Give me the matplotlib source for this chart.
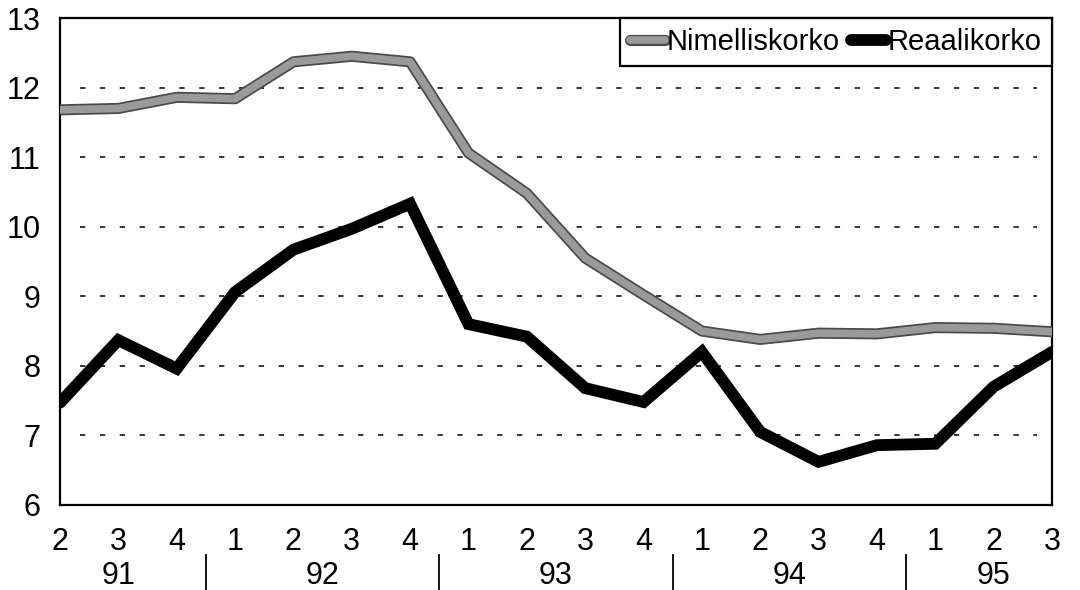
import numpy as np
import matplotlib
matplotlib.use('Agg')
from matplotlib import pyplot as plt
import matplotlib.patheffects as pe

# quarters 1991Q2 - 1995Q3
quarters = ['2', '3', '4', '1', '2', '3', '4', '1', '2', '3', '4',
            '1', '2', '3', '4', '1', '2', '3']
years = ['91', '92', '93', '94', '95']
year_len = [3, 4, 4, 4, 3]

nimelliskorko = [11.68, 11.70, 11.86, 11.84, 12.37, 12.45, 12.37, 11.06, 10.48,
                 9.55, 9.02, 8.50, 8.38, 8.47, 8.46, 8.55, 8.54, 8.49]
reaalikorko = [7.47, 8.37, 7.96, 9.06, 9.67, 9.97, 10.33, 8.60, 8.42,
               7.68, 7.48, 8.20, 7.05, 6.62, 6.86, 6.88, 7.70, 8.20]

plt.rcParams['font.family'] = ['Liberation Sans', 'DejaVu Sans']

fig = plt.figure(figsize=(10.8, 5.9), dpi=100)
ax = fig.add_axes([60 / 1080, 1 - 505 / 590, 992 / 1080, 487 / 590])

x = np.arange(len(quarters))

ax.plot(x, nimelliskorko, color='#9a9a9a', linewidth=5.5, solid_joinstyle='round',
        solid_capstyle='round', label='Nimelliskorko', zorder=3,
        path_effects=[pe.Stroke(linewidth=8, foreground='#4a4a4a'), pe.Normal()])
ax.plot(x, reaalikorko, color='black', linewidth=8.5, solid_joinstyle='miter',
        solid_capstyle='round', label='Reaalikorko', zorder=4)

ax.set_xlim(0, len(quarters) - 1)
ax.set_ylim(6, 13)
ax.set_yticks(range(6, 14))
ax.set_xticks(x)
ax.set_xticklabels(quarters)
ax.tick_params(axis='both', length=0, labelsize=22)
ax.tick_params(axis='x', pad=16)
ax.tick_params(axis='y', pad=14)

# dotted grid
for v in range(7, 13):
    ax.axhline(v, xmin=0.02, xmax=0.985, color='black', linewidth=1.1,
               linestyle=(0, (3.5, 9.5)), zorder=1)

for s in ax.spines.values():
    s.set_linewidth(1.6)
    s.set_color('black')

# year labels and separators
tr = ax.get_xaxis_transform()
start = 0
for i, (yr, n) in enumerate(zip(years, year_len)):
    mid = start + (n - 1) / 2
    ax.text(mid, -0.146, yr, transform=tr, ha='center', va='center', fontsize=22)
    if i < len(years) - 1:
        sep = start + n - 0.5
        ax.plot([sep, sep], [-0.103, -0.175], transform=tr, color='black',
                linewidth=1.3, clip_on=False)
    start += n

leg = ax.legend(loc='upper right', ncol=2, fontsize=21, frameon=True, fancybox=False,
                borderaxespad=0, handlelength=1.2, handletextpad=0.05,
                columnspacing=0.4, borderpad=0.35)
leg.get_frame().set_edgecolor('black')
leg.get_frame().set_linewidth(1.6)
leg.get_frame().set_alpha(1)

fig.savefig('out.png', dpi=100)
